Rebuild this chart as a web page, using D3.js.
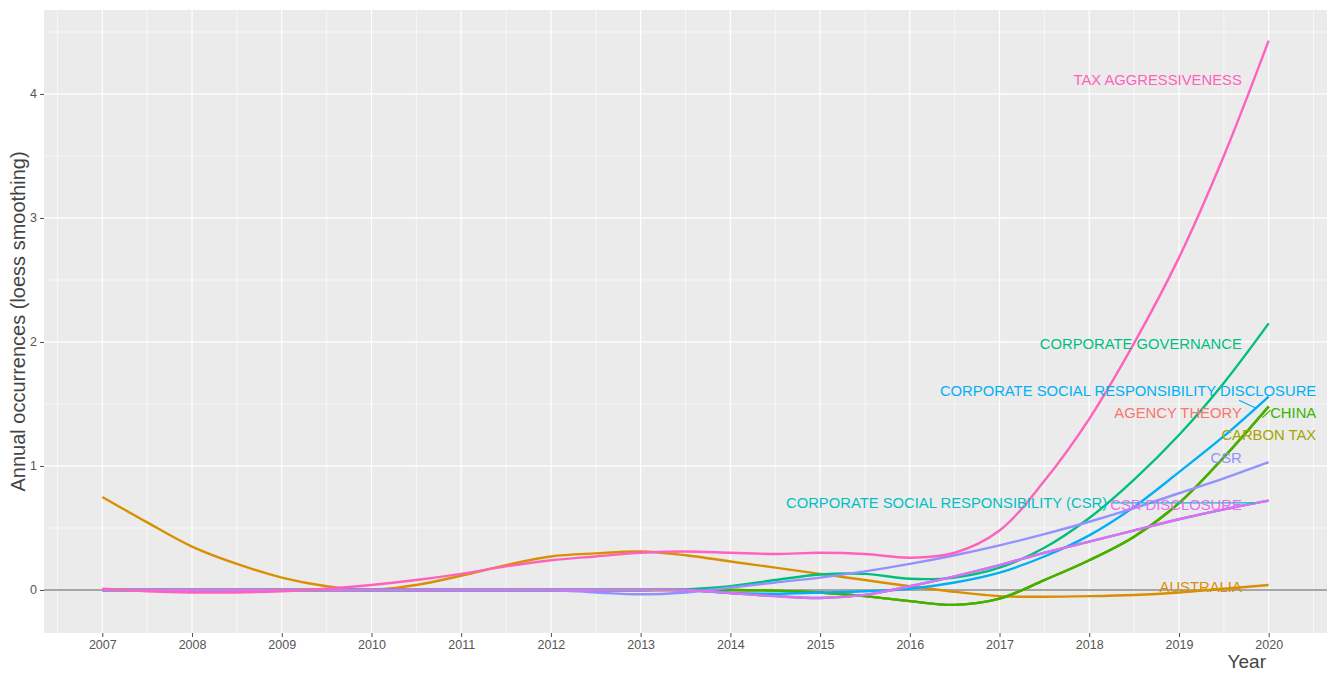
<!DOCTYPE html>
<html>
<head>
<meta charset="utf-8">
<script src="https://cdn.jsdelivr.net/npm/d3@7"></script>
<style>
  html, body { margin: 0; padding: 0; background: #ffffff; }
  svg { display: block; font-family: "Liberation Sans", Arial, sans-serif; }
</style>
</head>
<body>
<svg id="chart" width="1329" height="673"></svg>
<script>
// Half-year sampling grid of the smoothed curves
const years = [2007, 2007.5, 2008, 2008.5, 2009, 2009.5, 2010, 2010.5, 2011, 2011.5,
  2012, 2012.5, 2013, 2013.5, 2014, 2014.5, 2015, 2015.5, 2016, 2016.5,
  2017, 2017.5, 2018, 2018.5, 2019, 2019.5, 2020];

const xTickLabels = ["2007", "2008", "2009", "2010", "2011", "2012", "2013",
  "2014", "2015", "2016", "2017", "2018", "2019", "2020"];
const yTickLabels = ["0", "1", "2", "3", "4"];

// Keywords in plotting order (alphabetical)
const keywords = ["AGENCY THEORY", "AUSTRALIA", "CARBON TAX", "CHINA",
  "CORPORATE GOVERNANCE", "CORPORATE SOCIAL RESPONSIBILITY (CSR)",
  "CORPORATE SOCIAL RESPONSIBILITY DISCLOSURE", "CSR", "CSR DISCLOSURE",
  "TAX AGGRESSIVENESS"];

// Loess-smoothed annual occurrences
const agencyTheory = [0, 0, 0, 0, 0, 0, 0, 0, 0, 0, 0, 0, 0, 0, 0, -0.005, -0.02, -0.05, -0.09, -0.12,
  -0.07, 0.08, 0.24, 0.43, 0.7, 1.07, 1.48];
const australia = [0.75, 0.545, 0.35, 0.21, 0.10, 0.03, 0.0, 0.04, 0.115, 0.2,
  0.27, 0.295, 0.31, 0.28, 0.23, 0.18, 0.13, 0.08, 0.03, -0.015,
  -0.05, -0.055, -0.05, -0.04, -0.02, 0.01, 0.04];
const carbonTax = [0, 0, 0, 0, 0, 0, 0, 0, 0, 0, 0, 0, 0, 0, 0, -0.005, -0.02, -0.05, -0.09, -0.12,
  -0.07, 0.08, 0.24, 0.43, 0.7, 1.07, 1.48];
const china = [0, 0, 0, 0, 0, 0, 0, 0, 0, 0, 0, 0, 0, 0, 0, -0.005, -0.02, -0.05, -0.09, -0.12,
  -0.07, 0.08, 0.24, 0.43, 0.7, 1.07, 1.48];
const corporateGovernance = [0, 0, 0, 0, 0, 0, 0, 0, 0, 0, 0, 0, 0, 0.005, 0.03, 0.08, 0.125, 0.13, 0.09, 0.10,
  0.18, 0.34, 0.58, 0.89, 1.25, 1.67, 2.15];
const csrFull = [0, 0, 0, 0, 0, 0, 0, 0, 0, 0, 0, 0, 0, 0, -0.025, -0.05, -0.065, -0.04, 0.03, 0.11,
  0.2, 0.3, 0.39, 0.48, 0.57, 0.65, 0.72];
const csrDisclosureLong = [0, 0, 0, 0, 0, 0, 0, 0, 0, 0, 0, 0, 0, 0, -0.025, -0.03, -0.02, -0.01, 0.01, 0.06,
  0.14, 0.27, 0.44, 0.67, 0.95, 1.24, 1.56];
const csr = [0, 0, 0, 0, 0, 0, 0, 0, 0, 0, 0, -0.02, -0.035, -0.02, 0.02, 0.06, 0.10, 0.15, 0.21, 0.28,
  0.36, 0.45, 0.55, 0.66, 0.78, 0.9, 1.03];
const csrDisclosure = [0, 0, 0, 0, 0, 0, 0, 0, 0, 0, 0, 0, 0, 0, -0.025, -0.05, -0.065, -0.04, 0.03, 0.11,
  0.2, 0.3, 0.39, 0.48, 0.57, 0.65, 0.72];
const taxAggressiveness = [0.01, -0.01, -0.02, -0.02, -0.01, 0.01, 0.04, 0.08, 0.13, 0.19,
  0.24, 0.27, 0.30, 0.31, 0.30, 0.29, 0.30, 0.29, 0.26, 0.30,
  0.48, 0.88, 1.38, 1.99, 2.68, 3.5, 4.43];

const seriesValues = [agencyTheory, australia, carbonTax, china, corporateGovernance,
  csrFull, csrDisclosureLong, csr, csrDisclosure, taxAggressiveness];

const colors = ["#F8766D", "#D89000", "#A3A500", "#39B600", "#00BF7D",
  "#00BFC4", "#00B0F6", "#9590FF", "#E76BF3", "#FF62BC"];

// Label placement (data units) and optional leader segments
const labelLayout = [
  { x: 2019.70, y: 1.427, anchor: "end" },
  { x: 2019.70, y: 0.024, anchor: "end" },
  { x: 2020.53, y: 1.25, anchor: "end" },
  { x: 2020.53, y: 1.427, anchor: "end", seg: [[2020.02, 1.45], [2019.93, 1.39]] },
  { x: 2019.70, y: 1.984, anchor: "end" },
  { x: 2018.20, y: 0.702, anchor: "end", seg: [[2018.25, 0.702], [2019.85, 0.702]] },
  { x: 2020.53, y: 1.605, anchor: "end", seg: [[2019.67, 1.53], [2019.86, 1.465]] },
  { x: 2019.70, y: 1.065, anchor: "end" },
  { x: 2019.70, y: 0.685, anchor: "end" },
  { x: 2019.70, y: 4.113, anchor: "end" }
];

const svg = d3.select("#chart");
const panel = { left: 44, right: 1327, top: 10, bottom: 633 };

const x = d3.scaleLinear().domain([2006.35, 2020.65]).range([panel.left, panel.right]);
const y = d3.scaleLinear().domain([-0.347, 4.677]).range([panel.bottom, panel.top]);

// Panel background
svg.append("rect")
  .attr("x", panel.left).attr("y", panel.top)
  .attr("width", panel.right - panel.left).attr("height", panel.bottom - panel.top)
  .attr("fill", "#EBEBEB");

const grid = svg.append("g");
const xMajor = xTickLabels.map(Number);
const xMinor = d3.range(2006.5, 2021, 1);
const yMajor = yTickLabels.map(Number);
const yMinor = [0.5, 1.5, 2.5, 3.5, 4.5];

grid.selectAll(".xminor").data(xMinor).join("line")
  .attr("x1", d => x(d)).attr("x2", d => x(d))
  .attr("y1", panel.top).attr("y2", panel.bottom)
  .attr("stroke", "#FFFFFF").attr("stroke-width", 0.6);
grid.selectAll(".yminor").data(yMinor).join("line")
  .attr("y1", d => y(d)).attr("y2", d => y(d))
  .attr("x1", panel.left).attr("x2", panel.right)
  .attr("stroke", "#FFFFFF").attr("stroke-width", 0.6);
grid.selectAll(".xmajor").data(xMajor).join("line")
  .attr("x1", d => x(d)).attr("x2", d => x(d))
  .attr("y1", panel.top).attr("y2", panel.bottom)
  .attr("stroke", "#FFFFFF").attr("stroke-width", 1.2);
grid.selectAll(".ymajor").data(yMajor).join("line")
  .attr("y1", d => y(d)).attr("y2", d => y(d))
  .attr("x1", panel.left).attr("x2", panel.right)
  .attr("stroke", "#FFFFFF").attr("stroke-width", 1.2);

// Reference line at zero
svg.append("line")
  .attr("x1", panel.left).attr("x2", panel.right)
  .attr("y1", y(0)).attr("y2", y(0))
  .attr("stroke", "#8A8A8A").attr("stroke-width", 1.4);

// Smoothed lines
const line = d3.line()
  .x((d, i) => x(years[i]))
  .y(d => y(d))
  .curve(d3.curveCatmullRom.alpha(0.5));

svg.append("g").selectAll("path").data(seriesValues).join("path")
  .attr("d", d => line(d))
  .attr("fill", "none")
  .attr("stroke", (d, i) => colors[i])
  .attr("stroke-width", 2.4)
  .attr("stroke-linejoin", "round")
  .attr("stroke-linecap", "butt");

// Leader segments
const segs = svg.append("g");
labelLayout.forEach((l, i) => {
  if (!l.seg) return;
  segs.append("line")
    .attr("x1", x(l.seg[0][0])).attr("y1", y(l.seg[0][1]))
    .attr("x2", x(l.seg[1][0])).attr("y2", y(l.seg[1][1]))
    .attr("stroke", colors[i]).attr("stroke-width", 1.2);
});

// Keyword labels
svg.append("g").selectAll("text").data(keywords).join("text")
  .attr("x", (d, i) => x(labelLayout[i].x))
  .attr("y", (d, i) => y(labelLayout[i].y))
  .attr("dy", "0.36em")
  .attr("text-anchor", (d, i) => labelLayout[i].anchor)
  .attr("fill", (d, i) => colors[i])
  .style("font-size", "14.8px")
  .text(d => d);

// Axes
const xAxis = d3.axisBottom(x)
  .tickValues(xMajor)
  .tickFormat((d, i) => xTickLabels[i])
  .tickSize(4).tickPadding(3);
const yAxis = d3.axisLeft(y)
  .tickValues(yMajor)
  .tickFormat((d, i) => yTickLabels[i])
  .tickSize(4).tickPadding(3);

const gx = svg.append("g").attr("transform", `translate(0,${panel.bottom})`).call(xAxis);
const gy = svg.append("g").attr("transform", `translate(${panel.left},0)`).call(yAxis);
[gx, gy].forEach(g => {
  g.select(".domain").remove();
  g.selectAll(".tick line").attr("stroke", "#4D4D4D").attr("stroke-width", 1);
  g.selectAll(".tick text")
    .attr("fill", "#555555")
    .style("font-size", "12.5px")
    .style("font-family", "'Liberation Sans', Arial, sans-serif");
});

// Axis titles
svg.append("text")
  .attr("transform", `translate(25,${(panel.top + panel.bottom) / 2}) rotate(-90)`)
  .attr("text-anchor", "middle")
  .attr("fill", "#444444")
  .style("font-size", "20px")
  .text("Annual occurrences (loess smoothing)");

svg.append("text")
  .attr("x", 1266).attr("y", 668)
  .attr("text-anchor", "end")
  .attr("fill", "#444444")
  .style("font-size", "19px")
  .text("Year");
</script>
</body>
</html>
